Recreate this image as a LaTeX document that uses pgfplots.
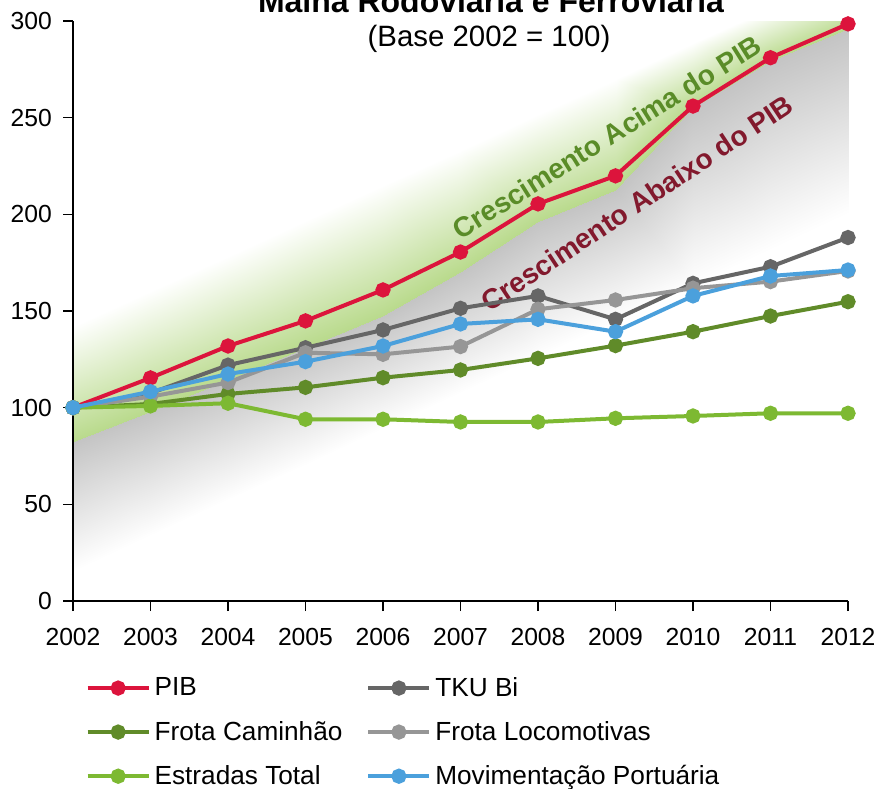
\documentclass[border=0pt]{standalone}
\usepackage{pgfplots}
\pgfplotsset{compat=1.18}
\usepackage{fontspec}
\setmainfont{Liberation Sans}
\definecolor{pib}{RGB}{220,20,60}
\definecolor{tku}{RGB}{102,102,102}
\definecolor{caminhao}{RGB}{96,139,41}
\definecolor{locom}{RGB}{150,150,150}
\definecolor{estradas}{RGB}{125,185,50}
\definecolor{portos}{RGB}{75,160,220}
\definecolor{acima}{RGB}{90,140,40}
\definecolor{abaixo}{RGB}{130,25,45}
\begin{document}
\begin{tikzpicture}
\begin{axis}[
  set layers=standard, clip mode=individual,
  at={(0pt,0pt)}, anchor=south west,
  scale only axis, width=387.5pt, height=290pt,
  xmin=2002, xmax=2012, ymin=0, ymax=300,
  axis lines=left, axis line style={-, line width=1pt},
  xtick={2002,2003,...,2012}, ytick={0,50,...,300},
  tick align=outside, major tick length=5pt,
  tick style={line width=0.8pt, black},
  ticklabel style={font=\fontsize{12.35}{14}\selectfont},
  /pgf/number format/assume math mode=true,
  x tick label style={/pgf/number format/1000 sep={}, yshift=-5pt},
  y tick label style={xshift=-2pt},
  point meta min=0, point meta max=1,
  legend columns=2,
  legend cell align=left,
  legend style={draw=none, fill=none, inner sep=0pt,
    at={(axis description cs:0.0159,-0.1236)}, anchor=north west,
    font=\fontsize{13.1}{15}\selectfont,
    /tikz/every even column/.append style={column sep=10pt},
    row sep=7pt},
  legend image code/.code={\draw[mark repeat=2,mark phase=2] plot coordinates {(0cm,0cm) (0.535cm,0cm) (1.07cm,0cm)};},
  series/.style={color=#1, line width=2pt, mark=*, mark size=2.8pt, mark options={solid, fill=#1}},
]
% green band (crescimento acima do PIB)
\addplot[on layer=axis background, patch, patch type=rectangle, shader=interp, forget plot, point meta=explicit,
  colormap={gfade}{rgb255=(255,255,255) rgb255=(185,218,140)}] coordinates {
 (2002,82)[1] (2003,98)[1] (2003,160.3)[0] (2002,142)[0]
 (2003,98)[1] (2004,114.5)[1] (2004,178.6)[0] (2003,160.3)[0]
 (2004,114.5)[1] (2005,131)[1] (2005,196.9)[0] (2004,178.6)[0]
 (2005,131)[1] (2006,147.5)[1] (2006,215.2)[0] (2005,196.9)[0]
 (2006,147.5)[1] (2007,170)[1] (2007,233.5)[0] (2006,215.2)[0]
 (2007,170)[1] (2008,196)[1] (2008,251.8)[0] (2007,233.5)[0]
 (2008,196)[1] (2009,212.5)[1] (2009,270.1)[0] (2008,251.8)[0]
 (2009,212.5)[1] (2010,255)[1] (2010,288.4)[0] (2009,270.1)[0]
 (2010,255)[1] (2011,279.5)[1] (2011,306.7)[0] (2010,288.4)[0]
 (2011,279.5)[1] (2012,296)[1] (2012,325)[0] (2011,306.7)[0]
};
% gray region (crescimento abaixo do PIB)
\addplot[on layer=axis background, patch, patch type=rectangle, shader=interp, forget plot, point meta=explicit,
  colormap={grfade}{rgb255=(255,255,255) rgb255=(196,196,196)}] coordinates {
 (2002,15)[0] (2003,33.5)[0] (2003,98)[1] (2002,82)[1]
 (2003,33.5)[0] (2004,52)[0] (2004,114.5)[1] (2003,98)[1]
 (2004,52)[0] (2005,70.5)[0] (2005,131)[1] (2004,114.5)[1]
 (2005,70.5)[0] (2006,89)[0] (2006,147.5)[1] (2005,131)[1]
 (2006,89)[0] (2007,107.5)[0] (2007,170)[1] (2006,147.5)[1]
 (2007,107.5)[0] (2008,126)[0] (2008,196)[1] (2007,170)[1]
 (2008,126)[0] (2009,144.5)[0] (2009,212.5)[1] (2008,196)[1]
 (2009,144.5)[0] (2010,163)[0] (2010,255)[1] (2009,212.5)[1]
 (2010,163)[0] (2011,181.5)[0] (2011,279.5)[1] (2010,255)[1]
 (2011,181.5)[0] (2012,200)[0] (2012,296)[1] (2011,279.5)[1]
};
\node[rotate=32, text=acima, font=\bfseries\fontsize{14}{16}\selectfont] at (axis cs:2008.89,240) {Crescimento Acima do PIB};
\node[rotate=33.5, text=abaixo, font=\bfseries\fontsize{14}{16}\selectfont] at (axis cs:2009.28,205.9) {Crescimento Abaixo do PIB};

\addplot[series=pib] coordinates {(2002,100) (2003,115.4) (2004,131.9) (2005,144.9) (2006,160.9) (2007,180.5) (2008,205.4) (2009,219.9) (2010,256) (2011,281) (2012,298.5)};
\addlegendentry{PIB}
\addplot[series=tku] coordinates {(2002,100) (2003,107.5) (2004,122) (2005,131) (2006,140.2) (2007,151.4) (2008,157.8) (2009,145.7) (2010,164.3) (2011,172.9) (2012,188)};
\addlegendentry{TKU Bi}
\addplot[series=caminhao] coordinates {(2002,100) (2003,101.9) (2004,107.1) (2005,110.5) (2006,115.5) (2007,119.5) (2008,125.5) (2009,132.1) (2010,139.3) (2011,147.4) (2012,154.8)};
\addlegendentry{Frota Caminhão}
\addplot[series=locom] coordinates {(2002,100) (2003,105.7) (2004,113) (2005,128.4) (2006,127.6) (2007,131.6) (2008,150.9) (2009,155.7) (2010,161.8) (2011,165.2) (2012,170.7)};
\addlegendentry{Frota Locomotivas}
\addplot[series=estradas] coordinates {(2002,100) (2003,100.9) (2004,102.3) (2005,94) (2006,94) (2007,92.6) (2008,92.6) (2009,94.5) (2010,95.7) (2011,97.1) (2012,97.1)};
\addlegendentry{Estradas Total}
\addplot[series=portos] coordinates {(2002,100) (2003,108.3) (2004,117.4) (2005,123.8) (2006,131.9) (2007,143.3) (2008,145.7) (2009,139.3) (2010,157.8) (2011,168.1) (2012,171.2)};
\addlegendentry{Movimentação Portuária}
\end{axis}
\node[anchor=base, font=\bfseries\fontsize{16}{19}\selectfont] at (209pt,294pt) {Malha Rodoviária e Ferroviária};
\node[anchor=base, font=\fontsize{14.7}{17}\selectfont] at (208pt,277.2pt) {(Base 2002 = 100)};
\pgfresetboundingbox
\useasboundingbox (-36.5pt,-93.5pt) rectangle (402pt,300.5pt);
\end{tikzpicture}
\end{document}
